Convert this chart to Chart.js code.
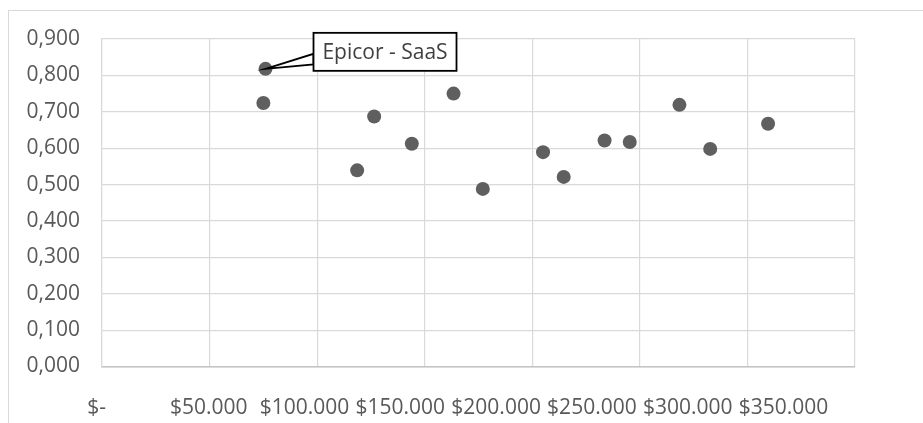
<!DOCTYPE html>
<html>
<head>
<meta charset="utf-8">
<script src="https://cdn.jsdelivr.net/npm/chart.js@4/dist/chart.umd.min.js"></script>
<style>
  html, body { margin: 0; padding: 0; background: #fff; }
  #wrap { width: 923px; height: 423px; }
</style>
</head>
<body>
<div id="wrap"><canvas id="scatterChart" width="923" height="423"></canvas></div>
<script>
// Chart data
const xValues = [76000, 75000, 118600, 126500, 144000, 163400, 177000, 205000, 214600, 233600, 245300, 268400, 282700, 309600];
const yValues = [0.818, 0.724, 0.539, 0.687, 0.612, 0.750, 0.488, 0.589, 0.521, 0.621, 0.617, 0.719, 0.598, 0.667];
const pointLabels = ['Epicor - SaaS', '', '', '', '', '', '', '', '', '', '', '', '', ''];

// Axis ticks
const xTicks = [0, 50000, 100000, 150000, 200000, 250000, 300000, 350000];
const xTickLabels = ['$-      ', '$50.000', '$100.000', '$150.000', '$200.000', '$250.000', '$300.000', '$350.000'];
const yTicks = [0, 0.1, 0.2, 0.3, 0.4, 0.5, 0.6, 0.7, 0.8, 0.9];
const yTickLabels = ['0,000', '0,100', '0,200', '0,300', '0,400', '0,500', '0,600', '0,700', '0,800', '0,900'];

const FONT = "'Open Sans', 'Noto Sans', sans-serif";
const GRID = '#d9d9d9';
const TEXT = '#595959';

// light frame round the whole chart
const framePlugin = {
    id: 'frame',
    beforeDraw(chart) {
        const ctx = chart.ctx;
        ctx.save();
        ctx.strokeStyle = GRID;
        ctx.lineWidth = 1;
        ctx.strokeRect(8.5, 10.5, chart.width + 10, chart.height + 10);
        ctx.restore();
    }
};

// callout boxes for named points
const calloutPlugin = {
    id: 'callout',
    afterDatasetsDraw(chart) {
        const ctx = chart.ctx;
        const meta = chart.getDatasetMeta(0);
        pointLabels.forEach((txt, i) => {
            if (!txt) return;
            const p = meta.data[i];
            const bx = p.x + 48, by = p.y - 36, bw = 143, bh = 38;
            ctx.save();
            ctx.lineWidth = 1.8;
            ctx.strokeStyle = '#000';
            ctx.fillStyle = '#fff';
            // wedge
            ctx.beginPath();
            ctx.moveTo(p.x, p.y);
            ctx.lineTo(bx, by + 21);
            ctx.lineTo(bx, by + 31.5);
            ctx.closePath();
            ctx.fill();
            ctx.stroke();
            // box
            ctx.fillRect(bx, by, bw, bh);
            ctx.strokeRect(bx, by, bw, bh);
            ctx.fillStyle = '#404040';
            ctx.font = '21px ' + FONT;
            ctx.textAlign = 'center';
            ctx.textBaseline = 'middle';
            ctx.fillText(txt, bx + bw / 2, by + bh / 2 + 1);
            ctx.restore();
        });
    }
};

const ctx = document.getElementById('scatterChart').getContext('2d');
const chart = new Chart(ctx, {
    type: 'scatter',
    data: {
        datasets: [{
            data: xValues.map((x, i) => ({ x: x, y: yValues[i] })),
            backgroundColor: '#5f5f5f',
            borderColor: '#5f5f5f',
            borderWidth: 0,
            pointRadius: 7,
            pointHoverRadius: 7
        }]
    },
    options: {
        responsive: false,
        animation: false,
        layout: { padding: { top: 39, right: 68, bottom: 0, left: 0 } },
        plugins: {
            legend: { display: false },
            tooltip: { enabled: false }
        },
        scales: {
            x: {
                type: 'linear',
                position: 'bottom',
                min: 0,
                max: 350000,
                afterBuildTicks: axis => { axis.ticks = xTicks.map(v => ({ value: v })); },
                afterFit: axis => { axis.height = 0; },
                grid: { color: GRID, lineWidth: 1.2, drawTicks: false },
                border: { color: '#c4c4c4', width: 1.5 },
                ticks: { display: false }
            },
            x2: {
                type: 'linear',
                position: 'bottom',
                // label positions run a bit tighter than the gridlines in the reference
                min: -5746,
                max: 387348,
                afterBuildTicks: axis => { axis.ticks = xTicks.map(v => ({ value: v })); },
                afterFit: axis => { axis.height = 56.5; },
                grid: { display: false },
                border: { display: false },
                ticks: {
                    autoSkip: false,
                    maxRotation: 0,
                    padding: 21,
                    color: TEXT,
                    font: { family: FONT, size: 21 },
                    callback: (value, index) => xTickLabels[index]
                }
            },
            y: {
                min: 0,
                max: 0.9,
                afterBuildTicks: axis => { axis.ticks = yTicks.map(v => ({ value: v })); },
                afterFit: axis => { axis.width = 102; },
                grid: { color: GRID, lineWidth: 1.2, drawTicks: false },
                border: { color: GRID, width: 1.2 },
                ticks: {
                    padding: 22,
                    color: TEXT,
                    font: { family: FONT, size: 21 },
                    callback: (value, index) => yTickLabels[index]
                }
            }
        }
    },
    plugins: [framePlugin, calloutPlugin]
});
</script>
</body>
</html>
